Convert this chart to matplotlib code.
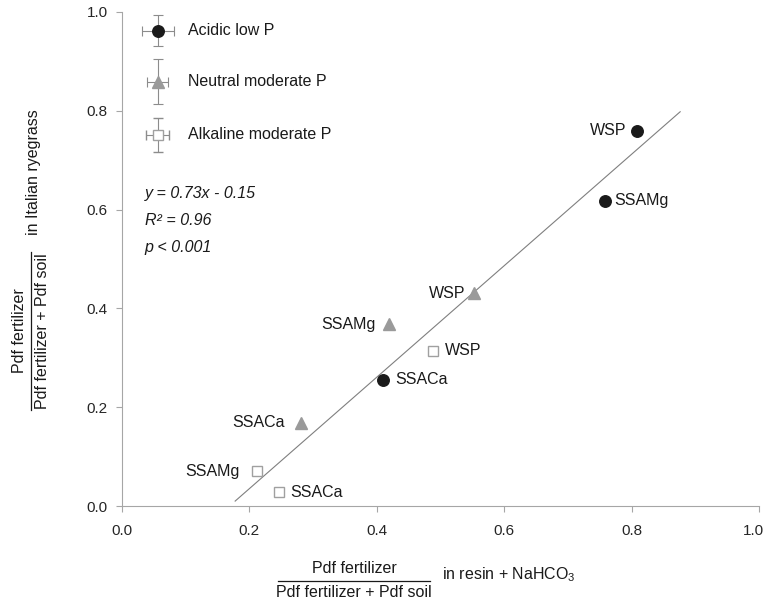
import matplotlib
matplotlib.use("Agg")
import matplotlib.pyplot as plt
import matplotlib.transforms as mtransforms
from matplotlib.lines import Line2D

plt.rcParams['font.family'] = ['Liberation Sans', 'DejaVu Sans']
plt.rcParams['mathtext.fontset'] = 'custom'
plt.rcParams['mathtext.rm'] = 'Liberation Sans'
plt.rcParams['mathtext.it'] = 'Liberation Sans:italic'

# values
groups = ["Acidic low P", "Neutral moderate P", "Alkaline moderate P"]
fertilizers_acidic = ["WSP", "SSAMg", "SSACa"]
acidic_x = [0.809, 0.758, 0.410]
acidic_y = [0.760, 0.618, 0.256]
fertilizers_neutral = ["WSP", "SSAMg", "SSACa"]
neutral_x = [0.553, 0.420, 0.282]
neutral_y = [0.431, 0.368, 0.169]
fertilizers_alkaline = ["WSP", "SSAMg", "SSACa"]
alkaline_x = [0.489, 0.212, 0.247]
alkaline_y = [0.314, 0.070, 0.028]

# legend symbols (with their error bars)
legend_x = [0.0565, 0.0565, 0.0565]
legend_y = [0.962, 0.859, 0.751]
legend_xerr = [0.025, 0.016, 0.018]
legend_yerr = [0.031, 0.046, 0.034]

# regression line end points
fit_x = [0.178, 0.876]
fit_y = [0.010, 0.798]

stats_lines = ["y = 0.73x - 0.15", "R\u00b2 = 0.96", "p < 0.001"]
ticks = [0.0, 0.2, 0.4, 0.6, 0.8, 1.0]

FS = 11.5
GREY = "#a6a6a6"
TXT = "#1a1a1a"

fig = plt.figure(figsize=(7.7, 5.98), dpi=100)
ax = fig.add_axes([0.158, 0.1538, 0.828, 0.8262])

ax.plot(fit_x, fit_y, color="#7f7f7f", lw=0.8, zorder=1)

styles = [
    dict(marker="o", ms=8.3, mfc="#1a1a1a", mec="#1a1a1a"),
    dict(marker="^", ms=8.8, mfc="#9a9a9a", mec="#9a9a9a"),
    dict(marker="s", ms=7.2, mfc="white", mec="#a0a0a0", mew=1.0),
]
series = [
    (acidic_x, acidic_y, fertilizers_acidic, [-8, 7, 8.5]),
    (neutral_x, neutral_y, fertilizers_neutral, [-6.5, -10, -12]),
    (alkaline_x, alkaline_y, fertilizers_alkaline, [8.5, -12.5, 8]),
]

for (xs, ys, names, offs), st in zip(series, styles):
    ax.plot(xs, ys, ls="none", zorder=3, **st)
    for x, y, name, dx in zip(xs, ys, names, offs):
        ax.annotate(name, (x, y), xytext=(dx, 0), textcoords="offset points",
                    ha="left" if dx > 0 else "right", va="center",
                    fontsize=FS, color=TXT)

# hand-made legend with error bars
for x, y, xe, ye, st, name in zip(legend_x, legend_y, legend_xerr, legend_yerr, styles, groups):
    ax.errorbar(x, y, xerr=xe, yerr=ye, ls="none", ecolor="#8c8c8c",
                elinewidth=0.8, capsize=3.5, capthick=0.8, zorder=3, **st)
    ax.text(x + 0.047, y, name, ha="left", va="center", fontsize=FS, color=TXT)

for i, s in enumerate(stats_lines):
    ax.text(0.036, 0.632 - i * 0.054, s, ha="left", va="center",
            fontsize=FS, style="italic", color=TXT)

ax.set_xlim(0, 1.0)
ax.set_ylim(0, 1.0)
ax.set_xticks(ticks)
ax.set_yticks(ticks)
ax.set_xticklabels([f"{t:.1f}" for t in ticks])
ax.set_yticklabels([f"{t:.1f}" for t in ticks])
ax.tick_params(direction="out", length=4, width=0.8, color=GREY,
               labelsize=11, labelcolor="#262626")
ax.tick_params(axis="x", pad=9)
ax.tick_params(axis="y", pad=6)
for side in ["top", "right"]:
    ax.spines[side].set_visible(False)
for side in ["left", "bottom"]:
    ax.spines[side].set_color(GREY)
    ax.spines[side].set_linewidth(0.8)

# keep the last x tick label inside the picture
last = ax.get_xticklabels()[-1]
last.set_transform(last.get_transform() + mtransforms.ScaledTranslation(-4 / 72, 0, fig.dpi_scale_trans))

# x axis label as a fraction
fig.text(0.4597, 0.0485, "Pdf fertilizer", ha="center", va="center", fontsize=FS, color=TXT)
fig.text(0.4597, 0.0100, "Pdf fertilizer + Pdf soil", ha="center", va="center", fontsize=FS, color=TXT)
fig.add_artist(Line2D([278 / 770, 430 / 770], [0.0284, 0.0284], color=TXT, lw=0.9))
fig.text(0.574, 0.0385, "in resin + NaHCO$_3$", ha="left", va="center", fontsize=FS, color=TXT)

# y axis label as a fraction
fig.text(0.0247, 0.4465, "Pdf fertilizer", ha="center", va="center", rotation=90, fontsize=FS, color=TXT)
fig.text(0.0558, 0.4465, "Pdf fertilizer + Pdf soil", ha="center", va="center", rotation=90, fontsize=FS, color=TXT)
fig.add_artist(Line2D([0.0403, 0.0403], [(598 - 410) / 598, (598 - 252) / 598], color=TXT, lw=0.9))
fig.text(0.0429, 0.7115, "in Italian ryegrass", ha="center", va="center", rotation=90, fontsize=FS, color=TXT)

fig.savefig("out.png", dpi=100)
